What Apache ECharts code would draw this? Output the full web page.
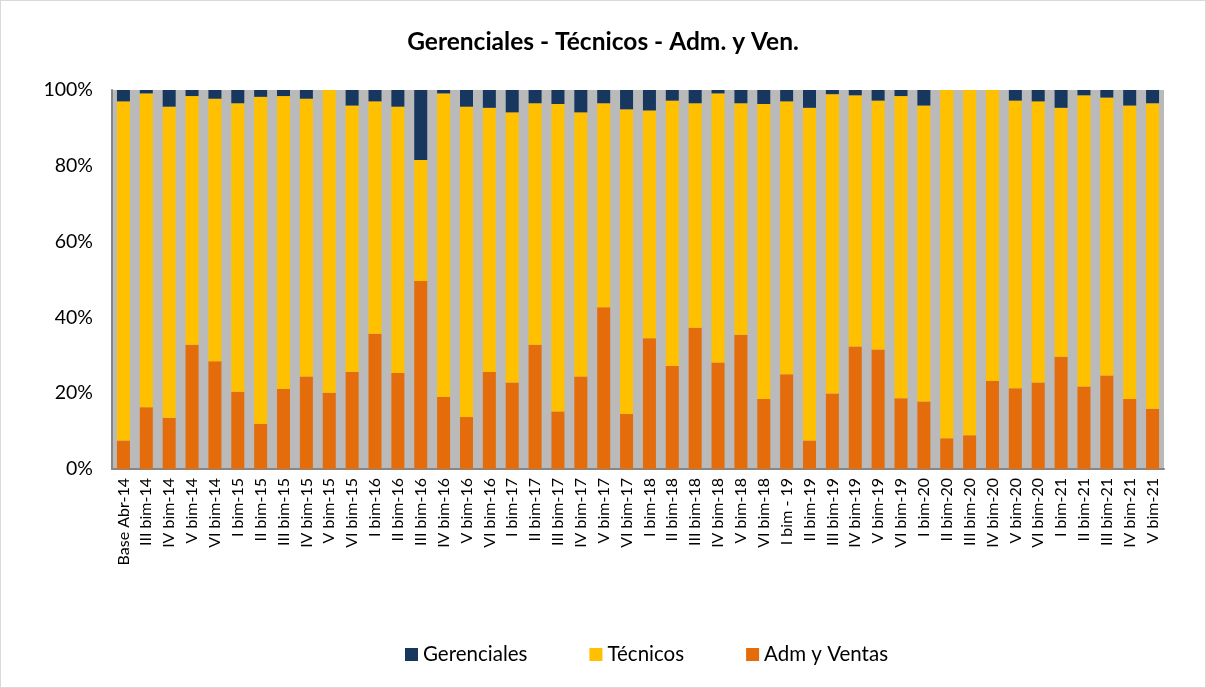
<!DOCTYPE html>
<html>
<head>
<meta charset="utf-8">
<script src="https://cdn.jsdelivr.net/npm/echarts@6/dist/echarts.min.js"></script>
<style>
  html, body { margin: 0; padding: 0; background: #fff; }
  #chart { width: 1204px; height: 686px; border: 1px solid #d9d9d9; }
</style>
</head>
<body>
<div id="chart"></div>
<script>
// categorias (bimestres)
var categories = [
  'Base Abr-14', 'III bim-14', 'IV bim-14', 'V bim-14', 'VI bim-14',
  'I bim-15', 'II bim-15', 'III bim-15', 'IV bim-15', 'V bim-15', 'VI bim-15',
  'I bim-16', 'II bim-16', 'III bim-16', 'IV bim-16', 'V bim-16', 'VI bim-16',
  'I bim-17', 'II bim-17', 'III bim-17', 'IV bim-17', 'V bim-17', 'VI bim-17',
  'I bim-18', 'II bim-18', 'III bim-18', 'IV bim-18', 'V bim-18', 'VI bim-18',
  'I bim - 19', 'II bim-19', 'III bim-19', 'IV bim-19', 'V bim-19', 'VI bim-19',
  'I bim-20', 'II bim-20', 'III bim-20', 'IV bim-20', 'V bim-20', 'VI bim-20',
  'I bim-21', 'II bim-21', 'III bim-21', 'IV bim-21', 'V bim-21'
];

// porcentajes
var admVentas = [
  7.5, 16.3, 13.5, 32.8, 28.4, 20.4, 11.9, 21.1, 24.4, 20.1,
  25.6, 35.7, 25.3, 49.6, 19.0, 13.7, 25.6, 22.8, 32.8, 15.2,
  24.4, 42.7, 14.5, 34.5, 27.2, 37.3, 28.1, 35.4, 18.5, 25.0,
  7.5, 19.9, 32.3, 31.5, 18.7, 17.8, 8.1, 8.9, 23.2, 21.3,
  22.8, 29.6, 21.8, 24.7, 18.5, 15.9
];
var tecnicos = [
  89.5, 82.8, 82.1, 65.6, 69.3, 76.1, 86.3, 77.3, 73.3, 79.9,
  70.3, 61.3, 70.3, 31.9, 80.1, 81.9, 69.7, 71.3, 63.7, 81.1,
  69.7, 53.8, 80.4, 60.1, 70.0, 59.2, 71.0, 61.1, 77.8, 72.0,
  87.8, 79.0, 66.3, 65.7, 79.7, 78.1, 91.9, 91.1, 76.8, 75.9,
  74.2, 65.7, 76.8, 73.3, 77.4, 80.6
];
var gerenciales = [
  3.0, 0.9, 4.4, 1.6, 2.3, 3.5, 1.8, 1.6, 2.3, 0.0,
  4.1, 3.0, 4.4, 18.5, 0.9, 4.4, 4.7, 5.9, 3.5, 3.7,
  5.9, 3.5, 5.1, 5.4, 2.8, 3.5, 0.9, 3.5, 3.7, 3.0,
  4.7, 1.1, 1.4, 2.8, 1.6, 4.1, 0.0, 0.0, 0.0, 2.8,
  3.0, 4.7, 1.4, 2.0, 4.1, 3.5
];

var font = 'Lato, "Open Sans", sans-serif';
var myChart = echarts.init(document.getElementById('chart'));

var option = {
  animation: false,
  title: {
    text: 'Gerenciales - Técnicos - Adm. y Ven.',
    left: 'center',
    top: 24,
    textStyle: { fontFamily: font, fontSize: 24.5, fontWeight: 'bold', color: '#000' }
  },
  legend: {
    bottom: 17,
    left: 399,
    itemGap: 62,
    itemWidth: 13,
    itemHeight: 13,
    icon: 'rect',
    data: ['Gerenciales', 'Técnicos', 'Adm y Ventas'],
    textStyle: { fontFamily: font, fontSize: 20.5, color: '#000' }
  },
  grid: {
    left: 111,
    right: 41,
    top: 89,
    bottom: 218,
    show: true,
    backgroundColor: '#bababa',
    borderWidth: 0
  },
  xAxis: {
    type: 'category',
    data: categories,
    axisLine: { lineStyle: { color: '#868686', width: 2 } },
    axisTick: { show: false },
    axisLabel: {
      rotate: 90,
      interval: 0,
      margin: 9,
      fontFamily: font,
      fontSize: 16,
      color: '#000'
    }
  },
  yAxis: {
    type: 'value',
    min: 0,
    max: 100,
    interval: 20,
    axisLine: { show: true, lineStyle: { color: '#868686', width: 2 } },
    axisTick: { show: false },
    splitLine: { show: false },
    axisLabel: {
      formatter: '{value}%',
      margin: 19,
      fontFamily: font,
      fontSize: 19.5,
      color: '#000'
    }
  },
  series: [
    {
      name: 'Adm y Ventas',
      type: 'bar',
      stack: 'total',
      barWidth: 13,
      itemStyle: { color: '#e46c0a' },
      data: admVentas
    },
    {
      name: 'Técnicos',
      type: 'bar',
      stack: 'total',
      barWidth: 13,
      itemStyle: { color: '#ffc000' },
      data: tecnicos
    },
    {
      name: 'Gerenciales',
      type: 'bar',
      stack: 'total',
      barWidth: 13,
      itemStyle: { color: '#17375e' },
      data: gerenciales
    }
  ]
};

myChart.setOption(option);
</script>
</body>
</html>
